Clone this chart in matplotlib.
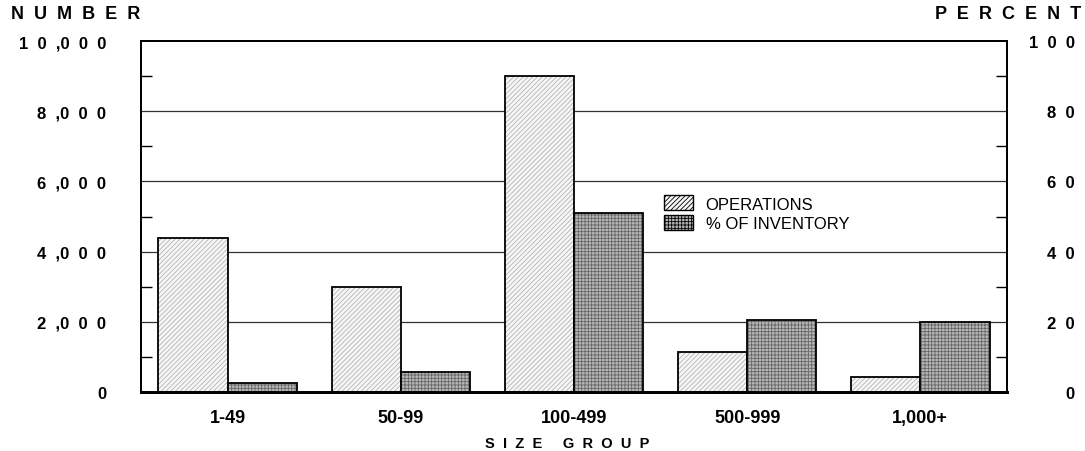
import matplotlib
matplotlib.use('Agg')
import matplotlib.pyplot as plt
from matplotlib.patches import Patch
import numpy as np

plt.rcParams['font.family'] = ['Liberation Sans', 'DejaVu Sans']
plt.rcParams['hatch.linewidth'] = 0.6

# data
size_groups = ['1-49', '50-99', '100-499', '500-999', '1,000+']
operations = [4380, 3000, 9000, 1150, 440]
pct_inventory = [2.6, 5.6, 51.0, 20.6, 20.0]

left_ticks = [0, 2000, 4000, 6000, 8000, 10000]
right_ticks = [0, 20, 40, 60, 80, 100]


def spaced(s, gap='  '):
    # wide letter spacing, comma hugs the next digit
    return gap.join(s).replace(',' + gap, ',')


fig = plt.figure(figsize=(10.85, 4.52), dpi=100)
ax = fig.add_axes([0.130, 0.1305, 0.798, 0.7765])
ax2 = ax.twinx()

x = np.arange(len(size_groups))
w = 0.4
ops_face, ops_hatch = '#f6f6f6', '#b4b4b4'
pct_face, pct_hatch = '#b8b8b8', '#666666'

# operations bars: light hatched
ax.bar(x - w / 2, operations, w, color=ops_face, hatch='///////',
       edgecolor=ops_hatch, linewidth=0, zorder=2)
ax.bar(x - w / 2, operations, w, fill=False, edgecolor='black',
       linewidth=1.3, zorder=3)

# percent bars: dark dotted
ax2.bar(x + w / 2, pct_inventory, w, color=pct_face, hatch='+++++',
        edgecolor=pct_hatch, linewidth=0, zorder=2)
ax2.bar(x + w / 2, pct_inventory, w, fill=False, edgecolor='black',
        linewidth=1.3, zorder=3)

ax.set_xlim(-0.5, len(size_groups) - 0.5)
ax.set_ylim(0, 10000)
ax2.set_ylim(0, 100)

for v in left_ticks[1:-1]:
    ax.axhline(v, color='#333333', linewidth=0.9, zorder=1)

ax.set_yticks(left_ticks)
ax.set_yticklabels([spaced(f'{v:,}') for v in left_ticks],
                   fontsize=12, fontweight='bold')
ax.set_yticks(np.arange(1000, 10000, 2000), minor=True)
ax.tick_params(axis='y', which='both', direction='in', length=8, width=1,
               pad=25)
ax.tick_params(axis='y', which='major', length=0)

ax2.set_yticks(right_ticks)
ax2.set_yticklabels([spaced(str(v)) for v in right_ticks],
                    fontsize=12, fontweight='bold', ha='right')
ax2.set_yticks(np.arange(10, 100, 20), minor=True)
ax2.tick_params(axis='y', which='both', direction='in', length=8, width=1,
                pad=49)
ax2.tick_params(axis='y', which='major', length=0)

ax.set_xticks(x)
ax.set_xticklabels(size_groups, fontsize=13, fontweight='bold')
ax.tick_params(axis='x', length=0, pad=12)

for a in (ax, ax2):
    for s in a.spines.values():
        s.set_linewidth(1.3)
    a.spines['bottom'].set_linewidth(2)

fig.text(0.010, 0.968, spaced('NUMBER'), fontsize=13, fontweight='bold',
         ha='left', va='center')
fig.text(0.997, 0.968, spaced('PERCENT'), fontsize=13, fontweight='bold',
         ha='right', va='center')
fig.text(0.523, 0.018, 'S  I  Z  E     G  R  O  U  P', fontsize=10.5,
         fontweight='bold', ha='center', va='center')

handles = [Patch(facecolor=ops_face, hatch='///////', edgecolor='black',
                 linewidth=1),
           Patch(facecolor=pct_face, hatch='+++++', edgecolor='black',
                 linewidth=1)]
leg = ax2.legend(handles, ['OPERATIONS', '% OF INVENTORY'], loc='upper left',
                 bbox_to_anchor=(0.604, 0.56), frameon=False, fontsize=12,
                 borderaxespad=0, borderpad=0, handlelength=1.75,
                 handleheight=1.0, labelspacing=0.22, handletextpad=0.75)

fig.savefig('out.png', dpi=100)
